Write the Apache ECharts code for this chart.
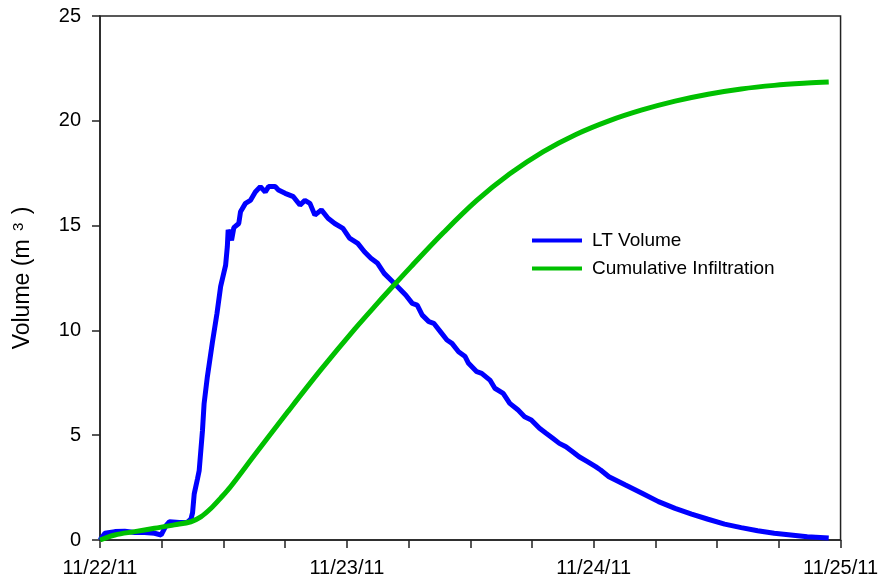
<!DOCTYPE html>
<html>
<head>
<meta charset="utf-8">
<title>LT Volume</title>
<script src="https://cdn.jsdelivr.net/npm/echarts@6/dist/echarts.min.js"></script>
<style>
	html, body { margin: 0; padding: 0; background: #fff; }
	#chart { width: 881px; height: 583px; }
</style>
</head>
<body>
<div id="chart"></div>
<script>
	// hours since 11/22/11 00:00
	var dateLabels = ['11/22/11', '11/23/11', '11/24/11', '11/25/11'];
	var yTicks = [0, 5, 10, 15, 20, 25];

	var ltHours = [0, 0.48, 1.45, 2.41, 3.37, 4.34, 5.3, 5.95, 6.1, 6.43, 6.75, 7.71, 8.51, 8.84, 9.0, 9.16, 9.47, 9.64, 9.96, 10.12,
		10.44, 10.92, 11.37, 11.73, 12.21, 12.38, 12.46, 12.79, 13.01, 13.49, 13.66, 14.14, 14.62, 15.1, 15.59, 16.07, 16.39, 17.03,
		17.35, 18.0, 18.8, 19.44, 19.92, 20.41, 20.89, 21.52, 22.17, 22.82, 23.62, 24.26, 25.06, 25.71, 26.34, 26.99, 27.63, 28.6,
		29.72, 30.36, 30.84, 31.33, 31.97, 32.45, 33.09, 33.73, 34.22, 34.86, 35.5, 35.83, 36.63, 37.11, 37.91, 38.39, 39.2, 39.84,
		40.65, 41.28, 41.93, 42.73, 43.37, 44.02, 44.66, 45.3, 45.95, 46.58, 47.39, 48.19, 48.67, 49.48, 51.09, 52.7, 54.3, 55.91,
		57.52, 59.12, 60.73, 62.34, 63.94, 65.55, 67.16, 68.76, 70.85];
	var ltVolume = [0, 0.32, 0.4, 0.42, 0.36, 0.36, 0.32, 0.24, 0.3, 0.7, 0.87, 0.83, 0.85, 1.0, 1.3, 2.2, 2.9, 3.3, 5.2, 6.5,
		7.8, 9.4, 10.8, 12.1, 13.1, 14.0, 14.8, 14.3, 14.9, 15.1, 15.66, 16.06, 16.2, 16.6, 16.86, 16.6, 16.86, 16.86,
		16.7, 16.54, 16.38, 15.98, 16.2, 16.06, 15.5, 15.75, 15.35, 15.1, 14.87, 14.4, 14.15, 13.75, 13.44, 13.2, 12.72, 12.25,
		11.69, 11.29, 11.21, 10.73, 10.42, 10.34, 9.94, 9.54, 9.38, 8.98, 8.75, 8.43, 8.03, 7.95, 7.63, 7.24, 7.0, 6.52,
		6.2, 5.88, 5.73, 5.33, 5.09, 4.85, 4.61, 4.45, 4.21, 3.97, 3.74, 3.5, 3.34, 3.02, 2.62, 2.23, 1.83, 1.51,
		1.24, 0.99, 0.76, 0.59, 0.44, 0.32, 0.24, 0.16, 0.1];

	var infHours = [0, 1.45, 3.37, 5.3, 7.23, 8.84, 9.8, 10.77, 11.73, 12.69, 15.1, 18.31, 21.52, 24.74, 26.99, 28.6,
		30.2, 33.42, 36.63, 39.84, 43.06, 46.27, 49.48, 52.7, 55.91, 59.12, 62.34, 65.55, 68.76, 70.85];
	var infVolume = [0, 0.24, 0.4, 0.56, 0.72, 0.87, 1.1, 1.5, 2.0, 2.54, 4.1, 6.15, 8.15, 10.05, 11.3, 12.17,
		13.02, 14.68, 16.2, 17.47, 18.52, 19.35, 20.0, 20.52, 20.94, 21.27, 21.52, 21.69, 21.8, 21.85];

	function pairs(xs, ys) {
		var out = [];
		for (var i = 0; i < xs.length; i++) {
			out.push([xs[i], ys[i]]);
		}
		return out;
	}

	var chart = echarts.init(document.getElementById('chart'));
	var font = 'Liberation Sans, Arial, sans-serif';
	var option = {
		backgroundColor: '#fff',
		animation: false,
		textStyle: { fontFamily: font },
		grid: {
			left: 100,
			right: 34,
			top: 16,
			bottom: 43,
			show: true,
			borderColor: '#222',
			borderWidth: 1.5
		},
		legend: {
			orient: 'vertical',
			left: 527,
			top: 226,
			itemWidth: 50,
			itemHeight: 4,
			itemGap: 9,
			icon: 'rect',
			textStyle: {
				fontSize: 19,
				color: '#000',
				padding: [0, 0, 0, 5]
			},
			data: ['LT Volume', 'Cumulative Infiltration']
		},
		xAxis: {
			type: 'value',
			min: 0,
			max: 72,
			interval: 6,
			splitLine: { show: false },
			axisLine: { lineStyle: { color: '#222', width: 1.5 } },
			axisTick: { length: 8, lineStyle: { color: '#222', width: 1.5 } },
			axisLabel: {
				margin: 18,
				fontSize: 20,
				color: '#000',
				formatter: function(v) {
					return v % 24 === 0 ? dateLabels[v / 24] : '';
				}
			}
		},
		yAxis: {
			type: 'value',
			min: yTicks[0],
			max: yTicks[yTicks.length - 1],
			interval: 5,
			splitLine: { show: false },
			axisLine: { lineStyle: { color: '#222', width: 1.5 } },
			axisTick: { length: 8, lineStyle: { color: '#222', width: 1.5 } },
			axisLabel: { margin: 19, fontSize: 20, color: '#000' },
			name: 'Volume (m {sup|3} )',
			nameLocation: 'middle',
			nameGap: 66,
			nameTextStyle: {
				fontSize: 23,
				color: '#000',
				rich: {
					sup: { fontSize: 15, verticalAlign: 'top', padding: [0, 2, 6, 2], color: '#000' }
				}
			}
		},
		series: [{
			name: 'LT Volume',
			type: 'line',
			data: pairs(ltHours, ltVolume),
			showSymbol: false,
			symbol: 'none',
			lineStyle: { color: '#0000ff', width: 5 },
			itemStyle: { color: '#0000ff' }
		}, {
			name: 'Cumulative Infiltration',
			type: 'line',
			data: pairs(infHours, infVolume),
			showSymbol: false,
			symbol: 'none',
			smooth: 0.35,
			lineStyle: { color: '#00c000', width: 5 },
			itemStyle: { color: '#00c000' }
		}]
	};
	chart.setOption(option);
</script>
</body>
</html>
